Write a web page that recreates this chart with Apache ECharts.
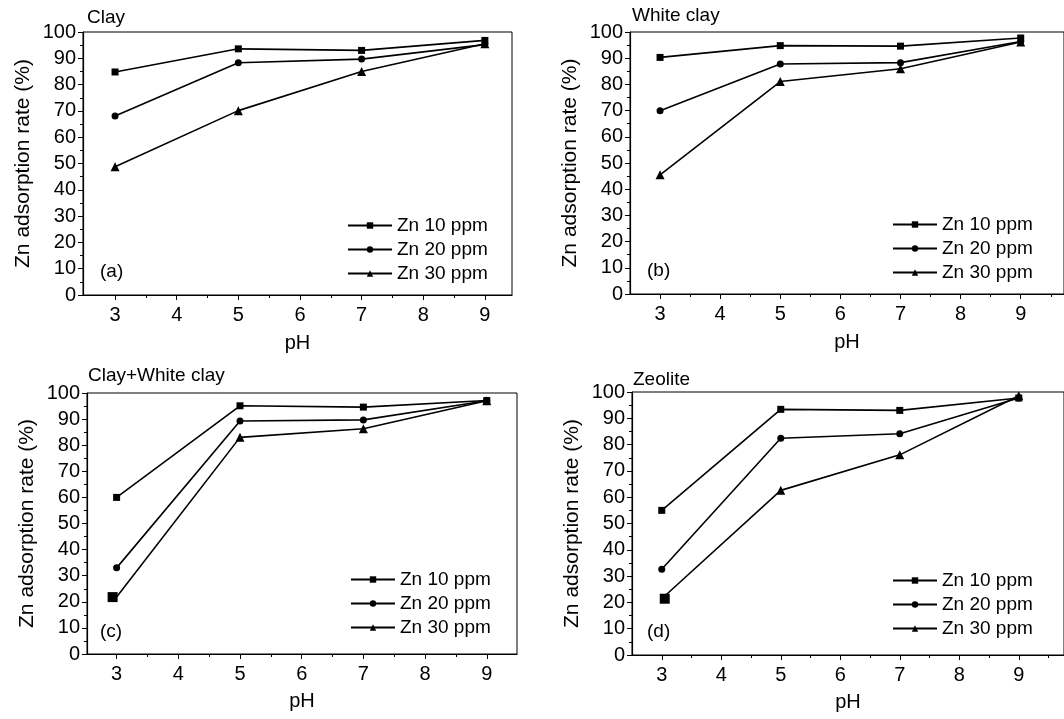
<!DOCTYPE html>
<html>
<head>
<meta charset="utf-8">
<script src="https://cdn.jsdelivr.net/npm/echarts@6/dist/echarts.min.js"></script>
<style>
  html, body { margin: 0; background: #fff; }
  #chart { width: 1064px; height: 719px; }
</style>
</head>
<body>
<div id="chart"></div>
<script>
// pH on x, Zn adsorption rate (%) on y
const phValues = [3, 5, 7, 9];
const seriesNames = ['Zn 10 ppm', 'Zn 20 ppm', 'Zn 30 ppm'];
const xTickLabels = [3, 4, 5, 6, 7, 8, 9];
const xMinorTicks = [3.5, 4.5, 5.5, 6.5, 7.5, 8.5, 9.5];
const panelTitles = ['Clay', 'White clay', 'Clay+White clay', 'Zeolite'];
const panelLetters = ['(a)', '(b)', '(c)', '(d)'];

const clay10 = [84.8, 93.6, 93.0, 96.8];
const clay20 = [68.1, 88.3, 89.7, 95.2];
const clay30 = [48.8, 70.1, 85.0, 95.5];

const white10 = [90.3, 94.8, 94.6, 97.7];
const white20 = [69.9, 87.8, 88.3, 96.4];
const white30 = [45.5, 81.1, 86.0, 96.2];

const mix10 = [60.0, 95.1, 94.6, 97.1];
const mix20 = [33.0, 89.3, 89.7, 97.0];
const mix30 = [21.8, 83.0, 86.3, 97.0];

const zeo10 = [55.0, 93.4, 93.0, 97.7];
const zeo20 = [32.6, 82.4, 84.1, 97.7];
const zeo30 = [21.4, 62.6, 76.1, 98.6];

const panelData = [
  [clay10, clay20, clay30],
  [white10, white20, white30],
  [mix10, mix20, mix30],
  [zeo10, zeo20, zeo30]
];

// layout of each panel
const panels = [
  { grid: { left: 83, top: 32, width: 429, height: 263 }, xMin: 2.48, xMax: 9.44, title: [87, 8], letter: [100, 262], legend: [347, 216], nameGap: 38 },
  { grid: { left: 630, top: 32, width: 440, height: 262 }, xMin: 2.5, xMax: 9.72, title: [632, 6], letter: [647, 261], legend: [892, 215], nameGap: 38 },
  { grid: { left: 87, top: 393, width: 430, height: 261 }, xMin: 2.52, xMax: 9.49, title: [88, 366], letter: [100, 622], legend: [350, 570], nameGap: 37 },
  { grid: { left: 632, top: 392, width: 440, height: 263 }, xMin: 2.5, xMax: 9.76, title: [633, 370], letter: [647, 622], legend: [892, 571], nameGap: 37 }
];
panels[2].oddShift = -4;
panels[3].oddShift = 3;

const symbols = ['rect', 'circle', 'triangle'];
const symbolSizes = [7, 7, 9];
const font = '"Liberation Sans", Arial, sans-serif';

const grid = [], xAxis = [], yAxis = [], series = [], title = [], legend = [];

panels.forEach((p, i) => {
  grid.push(Object.assign({ show: true, borderColor: '#000', borderWidth: 1, backgroundColor: '#fff' }, p.grid));
  xAxis.push({
    type: 'value', gridIndex: i, min: p.xMin, max: p.xMax,
    name: 'pH', nameLocation: 'middle', nameGap: p.nameGap,
    nameTextStyle: { color: '#000', fontSize: 20, fontFamily: font },
    axisLine: { lineStyle: { color: '#000', width: 1.2 } },
    axisTick: { customValues: xTickLabels, length: 5, lineStyle: { color: '#000' } },
    axisLabel: { customValues: xTickLabels, color: '#000', fontSize: 20, fontFamily: font, margin: 10 },
    splitLine: { show: false }
  });
  // minor ticks on x
  xAxis.push({
    type: 'value', gridIndex: i, min: p.xMin, max: p.xMax, position: 'bottom',
    axisLine: { show: false },
    axisTick: { customValues: xMinorTicks, length: 3, lineStyle: { color: '#000' } },
    axisLabel: { show: false },
    splitLine: { show: false }
  });
  yAxis.push({
    type: 'value', gridIndex: i, min: 0, max: 100, interval: 10,
    name: 'Zn adsorption rate (%)', nameLocation: 'middle', nameGap: 49,
    nameTextStyle: { color: '#000', fontSize: 21, fontFamily: font },
    axisLine: { show: true, lineStyle: { color: '#000', width: 1.2 } },
    axisTick: { show: true, length: 5, lineStyle: { color: '#000' } },
    minorTick: { show: true, splitNumber: 2, length: 3, lineStyle: { color: '#000' } },
    axisLabel: { color: '#000', fontSize: 20, fontFamily: font, margin: 7 },
    splitLine: { show: false }
  });

  panelData[i].forEach((vals, k) => {
    const data = vals.map((v, j) => [phValues[j], v]);
    const s = {
      name: seriesNames[k], type: 'line', xAxisIndex: i * 2, yAxisIndex: i,
      data: data, symbol: symbols[k], symbolSize: symbolSizes[k],
      lineStyle: { color: '#000', width: 1.6 },
      itemStyle: { color: '#000' },
      animation: false
    };
    // in (c) and (d) the 30 ppm point at pH 3 is printed as a larger square
    if (k === 2 && p.oddShift) {
      s.data = data.map((d, j) => j === 0
        ? { value: d, symbol: 'rect', symbolSize: 10, symbolOffset: [p.oddShift, 0] }
        : d);
    }
    series.push(s);
  });

  title.push({ text: panelTitles[i], left: p.title[0], top: p.title[1], padding: 0,
    textStyle: { color: '#000', fontSize: 19, fontWeight: 'normal', fontFamily: font } });
  title.push({ text: panelLetters[i], left: p.letter[0], top: p.letter[1], padding: 0,
    textStyle: { color: '#000', fontSize: 19, fontWeight: 'normal', fontFamily: font } });

  legend.push({
    data: seriesNames, orient: 'vertical', left: p.legend[0], top: p.legend[1],
    padding: 0, itemWidth: 44, itemHeight: 8, itemGap: 5, selectedMode: false,
    textStyle: { color: '#000', fontSize: 19, fontFamily: font, lineHeight: 19 }
  });
});

const chart = echarts.init(document.getElementById('chart'));
chart.setOption({
  backgroundColor: '#fff',
  animation: false,
  title, legend, grid, xAxis, yAxis, series
});
</script>
</body>
</html>
